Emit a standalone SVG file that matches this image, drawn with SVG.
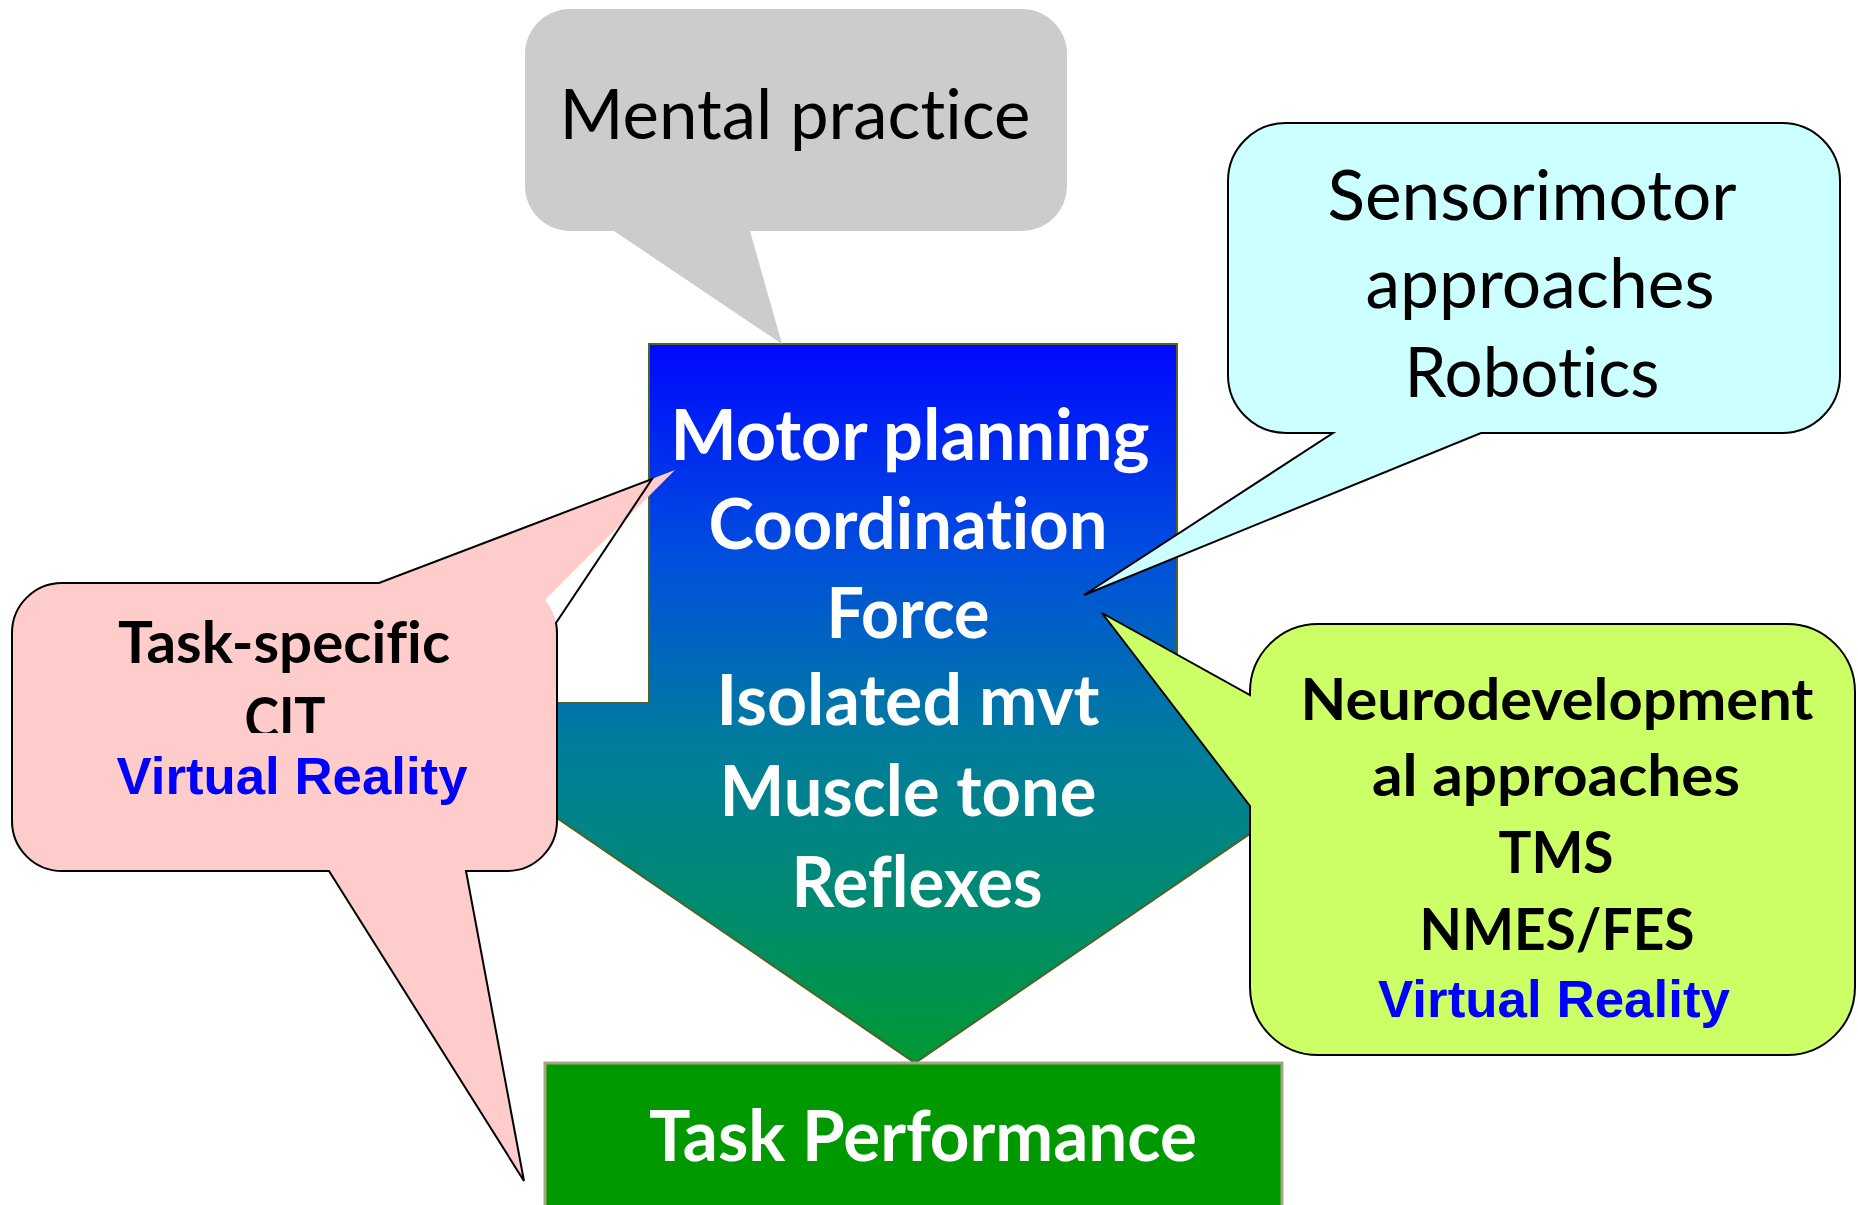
<svg xmlns="http://www.w3.org/2000/svg" width="1858" height="1205" viewBox="0 0 1858 1205">
  <defs>
    <linearGradient id="arrowFill" x1="0" y1="344" x2="0" y2="1063" gradientUnits="userSpaceOnUse">
      <stop offset="0" stop-color="#0008FF"/>
      <stop offset="0.3" stop-color="#0050DD"/>
      <stop offset="0.55" stop-color="#007C9E"/>
      <stop offset="0.8" stop-color="#008C6C"/>
      <stop offset="1" stop-color="#009933"/>
    </linearGradient>
    <clipPath id="citClip">
      <rect x="12" y="583" width="545" height="150"/>
    </clipPath>
    <style>
      text { font-variant-ligatures: none; font-feature-settings: "liga" 0, "clig" 0; }
      .reg { font-family: Lato, "Open Sans", "Liberation Sans", sans-serif; font-size: 70px; fill: #000; text-anchor: middle; }
      .white { font-family: Lato, "Open Sans", "Liberation Sans", sans-serif; font-weight: bold; font-size: 70px; fill: #fff; text-anchor: middle; }
      .blk { font-family: Lato, "Open Sans", "Liberation Sans", sans-serif; font-weight: bold; font-size: 57px; fill: #000; text-anchor: middle; }
      .vr { font-family: "Liberation Sans", Arial, sans-serif; font-weight: bold; font-size: 52px; fill: #0000FF; text-anchor: middle; }
      .outline { fill: none; stroke: #000; stroke-width: 2; stroke-linejoin: miter; }
    </style>
  </defs>

  <rect width="1858" height="1205" fill="#FFFFFF"/>

  <!-- central down arrow -->
  <g id="arrow">
    <path d="M649,344 H1177 V703 H1441 L915,1063 L389,703 H649 Z" fill="url(#arrowFill)" stroke="#4F6228" stroke-width="2"/>
    <text class="white" x="910" y="460" textLength="479" lengthAdjust="spacingAndGlyphs">Motor planning</text>
    <text class="white" x="908" y="549" textLength="399" lengthAdjust="spacingAndGlyphs">Coordination</text>
    <text class="white" x="908" y="638" textLength="163" lengthAdjust="spacingAndGlyphs">Force</text>
    <text class="white" x="908" y="725" textLength="383" lengthAdjust="spacingAndGlyphs">Isolated mvt</text>
    <text class="white" x="908" y="816" textLength="377" lengthAdjust="spacingAndGlyphs">Muscle tone</text>
    <text class="white" x="917" y="907" textLength="251" lengthAdjust="spacingAndGlyphs">Reflexes</text>
  </g>

  <!-- outcome box -->
  <g id="task-performance">
    <rect x="545" y="1063" width="737" height="160" fill="#009900" stroke="#A8A67E" stroke-width="3"/>
    <text class="white" x="923" y="1161" textLength="548" lengthAdjust="spacingAndGlyphs">Task Performance</text>
  </g>

  <!-- grey callout -->
  <g id="mental-practice">
    <path d="M570,9 H1022 A45,45 0 0 1 1067,54 V186 A45,45 0 0 1 1022,231 H750 L782,344 L614,231 H570 A45,45 0 0 1 525,186 V54 A45,45 0 0 1 570,9 Z" fill="#CCCCCC"/>
    <text class="reg" x="795" y="139" textLength="471" lengthAdjust="spacingAndGlyphs">Mental practice</text>
  </g>

  <!-- cyan callout -->
  <g id="sensorimotor">
    <path class="outline" d="M1286,123 H1782 A58,58 0 0 1 1840,181 V375 A58,58 0 0 1 1782,433 H1481 L1084,595 L1333,433 H1286 A58,58 0 0 1 1228,375 V181 A58,58 0 0 1 1286,123 Z" style="fill:#CCFFFF"/>
    <text class="reg" x="1532" y="220" textLength="409" lengthAdjust="spacingAndGlyphs">Sensorimotor</text>
    <text class="reg" x="1540" y="308" textLength="349" lengthAdjust="spacingAndGlyphs">approaches</text>
    <text class="reg" x="1532" y="397" textLength="255" lengthAdjust="spacingAndGlyphs">Robotics</text>
  </g>

  <!-- green callout -->
  <g id="neurodevelopmental">
    <path class="outline" d="M1318,624 H1787 A68,68 0 0 1 1855,692 V987 A68,68 0 0 1 1787,1055 H1318 A68,68 0 0 1 1250,987 V806 L1102,613 L1250,695 V692 A68,68 0 0 1 1318,624 Z" style="fill:#CCFF66"/>
    <text class="blk" x="1557" y="720" textLength="513" lengthAdjust="spacingAndGlyphs">Neurodevelopment</text>
    <text class="blk" x="1556" y="796" textLength="368" lengthAdjust="spacingAndGlyphs">al approaches</text>
    <text class="blk" x="1556" y="873" textLength="115" lengthAdjust="spacingAndGlyphs">TMS</text>
    <text class="blk" x="1557" y="950" textLength="275" lengthAdjust="spacingAndGlyphs">NMES/FES</text>
    <text class="vr" x="1554" y="1017" textLength="352" lengthAdjust="spacingAndGlyphs">Virtual Reality</text>
  </g>

  <!-- pink callout -->
  <g id="task-specific">
    <path d="M62,583 H379 L675,470 L545,600 A50,50 0 0 1 557,633 V821 A50,50 0 0 1 507,871 H466 L524,1181 L329,871 H62 A50,50 0 0 1 12,821 V633 A50,50 0 0 1 62,583 Z" fill="#FFCCCC"/>
    <path class="outline" d="M62,583 H379 L652,479 L556,623 A50,50 0 0 1 557,633 V821 A50,50 0 0 1 507,871 H466 L524,1181 L329,871 H62 A50,50 0 0 1 12,821 V633 A50,50 0 0 1 62,583 Z"/>
    <text class="blk" x="284" y="663" textLength="332" lengthAdjust="spacingAndGlyphs">Task-specific</text>
    <text class="blk" x="285" y="739" textLength="81" lengthAdjust="spacingAndGlyphs" clip-path="url(#citClip)">CIT</text>
    <text class="vr" x="292" y="794" textLength="351" lengthAdjust="spacingAndGlyphs">Virtual Reality</text>
  </g>
</svg>
